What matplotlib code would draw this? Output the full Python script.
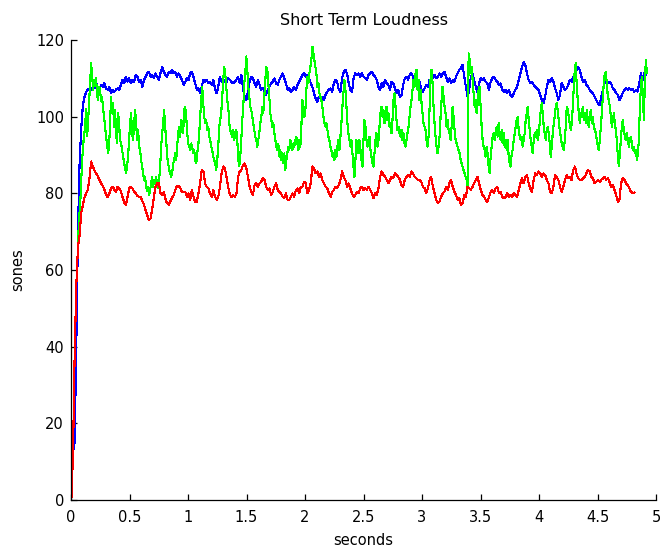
import numpy as np
import matplotlib
matplotlib.use("Agg")
import matplotlib.pyplot as plt

# ---------------- data ----------------
title = "Short Term Loudness"
xlabel = "seconds"
ylabel = "sones"
xticks = [0, 0.5, 1, 1.5, 2, 2.5, 3, 3.5, 4, 4.5, 5]
xticklabels = ["0", "0.5", "1", "1.5", "2", "2.5", "3", "3.5", "4", "4.5", "5"]
yticks = [0, 20, 40, 60, 80, 100, 120]

# sampling of the three loudness traces (seconds)
red_t0, red_dt = 0.003, 0.01411
blue_t0, blue_dt = 0.017, 0.01411
green_t0, green_dt = 0.060, 0.00856

red = [
    0, 12, 38, 56, 66, 69, 75, 77, 79, 80,
    81, 84, 88.3, 87, 86, 85.2, 84.5, 83.5, 82.6, 82,
    81, 79.6, 79, 80, 81.3, 81.7, 81, 80.4, 81.7, 81.3,
    80.5, 79, 77.6, 77, 79, 81.3, 81.7, 81.3, 80.5, 80,
    79.3, 79.1, 79.1, 78, 77, 75.6, 74.3, 73, 73.5, 76,
    79, 81.7, 82.6, 82.6, 80, 79.5, 80.4, 78.5, 77.4, 77,
    78, 78.8, 79.5, 80.9, 82, 82, 81.3, 80.4, 80.4,
    80.4, 79.1, 80.0, 78.3, 80.9, 79.1, 77.8, 77.8, 80.0, 82.6,
    86.1, 85.7, 82.6, 81.7, 81.3, 80.0, 79.1, 80.9, 79.1, 78.3,
    79.1, 81.7, 85.2, 87.0, 86.5, 84.3, 81.7, 79.6, 79.1, 79.6,
    79.1, 80.0, 84.3, 85.7, 86.1, 87.4, 87.8, 86.5, 84.3, 81.7,
    80.4, 79.6, 82.2, 82.6, 81.7, 82.6, 83.0, 83.9, 83.5, 81.7,
    80.9, 81.3, 79.6, 80.4, 81.7, 82.6, 80.9, 80.4, 80.0, 79.1,
    78.7, 80.0, 78.3, 78.3, 79.1, 80.0, 79.1, 80.9, 81.3, 80.0,
    81.7,
    81.7, 83.0, 82.6, 80.0, 80.9, 82.6, 87.0, 86.5, 85.2, 85.7,
    84.3, 85.2, 83.5, 82.6, 81.7, 81.3, 80.0, 79.1, 80.4, 80.9,
    81.7, 81.3, 82.2, 83.5, 85.7, 84.3, 83.5, 81.7, 82.6, 81.3,
    80.0, 79.1, 79.6, 80.4, 80.0, 81.3, 81.7, 80.9, 81.3, 80.9,
    81.7, 80.9, 80.0, 78.7, 80.0, 79.6, 81.3, 84.3, 85.7, 84.8,
    84.3, 83.5, 82.6, 83.5, 84.3, 83.9, 85.2, 84.8, 84.3, 83.5,
    82.2, 81.7, 83.5, 84.3, 84.8, 84.3, 85.7, 85.2, 84.3, 83.9,
    83.5,
    83.5, 83.0, 81.7, 81.3, 80.0, 81.3, 83.5, 84.3, 81.7, 80.0,
    78.3, 77.4, 77.8, 79.1, 80.0, 80.4, 81.7, 80.9, 82.6, 83.5,
    81.7, 80.4, 79.6, 78.3, 78.7, 77.0, 77.4, 79.6, 79.1, 81.7,
    81.3, 80.9, 81.7, 82.6, 83.5, 84.3, 82.6, 80.9, 79.6, 79.1,
    78.3, 77.8, 79.1, 80.4, 80.9, 80.0, 81.3, 81.7, 80.0, 80.4,
    79.1, 78.7, 79.1, 80.0, 79.1, 79.6, 79.1, 80.0, 79.6, 79.1,
    80.9, 82.6, 83.9, 82.6, 84.3, 84.8, 82.6, 81.3, 80.4, 83.5,
    85.2,
    84.8, 85.7, 85.2, 84.3, 85.2, 84.8, 83.5, 82.6, 80.4, 80.0,
    81.7, 84.8, 84.3, 83.5, 81.7, 80.4, 81.7, 83.5, 84.8, 83.9,
    84.3, 83.5, 86.1, 87.0, 85.2, 83.9, 83.5, 83.5, 83.9, 84.3,
    85.2, 86.1, 85.7, 84.3, 83.9, 82.6, 83.0, 83.5, 83.0, 83.5,
    83.9, 84.3, 83.5, 83.9, 83.0, 81.7, 82.2, 80.9, 79.6, 77.8,
    78.3, 82.6, 83.9, 83.5, 82.6, 82.2, 81.3, 80.4, 80.0, 80.2,
]

blue = [
    12.5, 15, 40, 70, 88, 97, 103, 105.2, 106.5, 107,
    107.4, 107, 107.8, 107.4, 108.7, 107.8, 107, 108.3, 107.8, 108.7,
    107.4, 107, 107.8, 106.1, 107, 106.5, 107, 107.4, 107, 108.3,
    109.6, 108.7, 110.4, 109.1, 110, 108.7, 109.6, 109.1, 110.9, 110.4,
    109.1, 109.6, 107.8, 109.6, 110.4, 111.3, 111.7, 110.4, 110.9, 110,
    111.3, 110.4, 109.6, 111.3, 113, 111.7, 110.9, 110.4, 111.7, 111.3,
    112.2, 111.3, 111.7, 110.4, 111.3, 110.4, 109.6, 108.3,
    109.1, 110.0, 109.6, 111.3, 111.7, 110.4, 108.7, 107.0, 107.4, 106.1,
    107.8, 109.6, 109.1, 109.6, 108.7, 109.1, 108.3, 109.6, 107.4, 106.1,
    107.8, 110.4, 109.1, 108.7, 109.6, 109.1, 110.0, 109.6, 109.1, 108.7,
    109.1, 109.6, 110.4, 108.7, 110.9, 107.4, 105.2, 104.3, 106.5, 109.1,
    110.4, 110.0, 108.7, 107.8, 109.6, 108.3, 107.0, 107.4, 106.5, 105.7,
    107.0, 107.8, 108.7, 109.1, 110.0, 108.7, 108.3, 109.6, 110.4, 111.3,
    110.0, 108.7, 107.0, 107.4, 106.5, 107.0, 107.8, 107.0, 108.3, 109.1,
    110.0,
    110.9, 111.3, 110.4, 110.9, 110.0, 108.7, 107.8, 106.1, 104.8, 103.9,
    105.2, 104.8, 105.2, 104.3, 105.7, 106.5, 107.0, 107.4, 106.5, 108.7,
    109.6, 109.1, 107.0, 106.5, 110.0, 111.7, 112.2, 111.3, 108.7, 107.0,
    106.5, 110.0, 111.3, 110.9, 111.3, 110.4, 111.3, 110.4, 110.0, 109.6,
    110.9, 111.3, 111.7, 110.9, 110.4, 109.6, 107.8, 107.0, 108.7, 107.8,
    109.6, 108.7, 108.3, 107.0, 109.1, 108.7, 107.4, 106.1, 107.0, 105.2,
    105.7, 108.3, 110.0, 110.4, 109.6, 110.9, 111.3, 110.4, 109.1, 108.7,
    107.8,
    109.1, 107.0, 106.5, 107.4, 108.3, 107.8, 109.6, 108.7, 110.4, 110.9,
    110.0, 110.4, 111.3, 110.4, 111.3, 111.7, 110.4, 109.1, 110.0, 108.7,
    109.6, 109.1, 110.4, 111.3, 112.2, 112.6, 113.5, 110.4, 107.8, 105.2,
    107.0, 110.4, 111.3, 109.6, 107.8, 106.5, 108.7, 110.0, 109.6, 110.0,
    109.1, 108.7, 107.0, 109.1, 110.0, 110.4, 109.6, 109.1, 108.3, 108.7,
    107.0, 106.5, 107.0, 106.1, 107.0, 105.7, 105.2, 106.1, 107.0, 107.8,
    109.6, 111.3, 113.0, 114.3, 113.5, 111.3, 109.6, 108.7, 109.1, 108.3,
    107.8,
    107.4, 107.0, 105.7, 104.3, 103.5, 105.2, 107.8, 109.6, 109.1, 110.0,
    109.1, 107.4, 106.1, 104.3, 105.7, 108.7, 107.8, 107.0, 107.4, 108.3,
    109.6, 109.1, 110.4, 110.9, 112.2, 113.0, 112.2, 110.4, 109.1, 109.6,
    108.3, 107.8, 107.0, 106.5, 106.1, 105.2, 104.3, 103.5, 103.0, 105.2,
    107.0, 108.7, 109.1, 108.7, 109.1, 108.7, 107.4, 107.0, 106.1, 105.7,
    104.3, 105.2, 106.1, 107.0, 107.4, 107.0, 107.4, 107.0, 107.2, 106.5,
    107.0, 106.5, 108.7, 111.3, 109.6, 111.3, 110.9,
]

green = [
    66, 74, 76, 82, 88, 92.2, 95, 97, 102, 95,
    98, 104, 108, 113.9, 111.3, 107, 109.6, 108, 110, 106,
    104.3, 107.8, 107, 104, 105.2, 102, 100, 97.4, 94.8, 93,
    90.4, 92.2, 98.3, 105.2, 100.9, 103.5, 97.4, 101.7, 95.7, 93,
    100.9, 98.3, 93.9, 93, 91.3, 89.6, 88, 86.5, 85.2, 87,
    89.6, 93.9, 98.3, 100.9, 95.7, 93.9, 98.3, 101.7, 98.3, 93.9,
    96.5, 92.2, 91.3, 88.7, 87, 85.2, 83.5, 84.3, 81.7, 80.5,
    81.7, 79.6, 80.9, 82.6, 84.3, 81.7, 83.5, 82.6, 84.3, 81.7,
    81.3, 83.5, 87, 92.2, 95.7, 98.3, 101.7, 97.4, 93.9, 89.6,
    87.8, 86.1, 85.2, 84.3, 85.2, 87.8, 88.7, 90.4, 88.7, 92.2,
    95.7, 97.4, 94.8, 99.1, 98.3, 95.7, 101.7,
    102.6, 100.0, 95.7, 93.0, 92.2, 91.3, 93.0, 92.2, 90.4, 91.3,
    88.7, 87.8, 90.4, 92.2, 95.7, 100.0, 104.3, 107.8, 103.5, 100.0,
    98.3, 99.1, 96.5, 97.4, 94.8, 93.9, 92.2, 91.3, 89.6, 88.7,
    87.8, 86.1, 88.7, 92.2, 97.4, 99.1, 100.9, 105.2, 109.6, 113.0,
    111.3, 107.8, 104.3, 102.6, 98.3, 96.5, 95.7, 94.8, 96.5, 93.9,
    95.7, 96.5, 93.9, 88.7, 87.0, 89.6, 93.9, 99.1, 102.6, 108.7,
    111.3, 115.7, 112.2, 107.8, 105.2, 102.6, 101.7, 100.0, 98.3, 96.5,
    94.8, 93.9, 92.2, 93.9, 95.7, 98.3, 100.0, 102.6, 100.9, 105.2,
    109.6, 113.0, 112.2, 108.7, 105.2, 100.9, 99.1, 97.4, 98.3, 95.7,
    93.9, 92.2, 91.3, 93.0, 89.6, 91.3, 88.7, 90.4, 87.8, 90.4,
    86.1, 88.7, 90.4, 92.2, 91.3, 93.9, 92.2, 91.3, 93.0, 92.2,
    93.9, 94.8, 93.0, 91.3, 93.9, 92.2, 97.4,
    104.3, 102.6, 100.0, 101.7, 107.0, 110.4, 108.7, 111.3, 113.0, 114.8,
    118.3, 116.5, 114.8, 113.0, 111.3, 107.8, 108.7, 106.1, 105.2, 104.3,
    102.6, 100.0, 98.3, 97.4, 98.3, 96.5, 94.8, 93.9, 92.2, 91.3,
    89.6, 90.4, 88.7, 91.3, 89.6, 92.2, 93.9, 91.3, 94.8, 98.3,
    102.6, 106.1, 109.6, 107.0, 102.6, 98.3, 95.7, 93.9, 92.2, 93.9,
    90.4, 87.0, 84.3, 88.7, 93.9, 92.2, 90.4, 93.9, 91.3, 88.7,
    87.0, 93.9, 99.1, 97.4, 93.9, 92.2, 93.9, 94.8, 91.3, 89.6,
    87.8, 87.0, 90.4, 93.9, 95.7, 92.2, 93.9, 97.4, 100.9, 102.6,
    100.0, 101.7, 98.3, 100.9, 102.6, 99.1, 100.9, 97.4, 98.3, 95.7,
    99.1, 104.3, 106.1, 102.6, 99.1, 96.5, 97.4, 95.7, 94.8, 96.5,
    93.9, 95.7, 93.0, 92.2, 93.9, 95.7, 97.4, 100.0, 102.6, 104.3,
    107.0, 109.6, 107.8, 111.3, 112.2, 107.0, 109.6,
    104.3, 107.0, 103.5, 100.9, 98.3, 97.4, 96.5, 93.9, 92.2, 94.8,
    102.6, 109.6, 112.2, 108.7, 102.6, 98.3, 94.8, 92.2, 90.4, 92.2,
    94.8, 100.0, 104.3, 107.8, 105.2, 102.6, 100.9, 97.4, 99.1, 96.5,
    95.7, 93.9, 97.4, 102.6, 100.0, 96.5, 93.9, 93.0, 92.2, 91.3,
    90.4, 88.7, 87.8, 87.0, 86.1, 85.2, 84.3, 83.5, 81.7, 116.5,
    114.8, 111.3, 113.0, 109.6, 106.1, 102.6, 104.3, 100.9, 103.5, 107.0,
    107.8, 102.6, 97.4, 93.9, 92.2, 91.3, 89.6, 92.2, 90.4, 87.0,
    85.2, 89.6, 92.2, 94.8, 95.7, 93.9, 95.7, 97.4, 94.8, 98.3,
    95.7, 93.9, 96.5, 93.0, 95.7, 92.2, 93.9, 91.3, 93.9, 89.6,
    87.8, 87.0, 90.4, 91.3, 93.9, 95.7, 97.4, 99.1, 100.0, 96.5,
    94.8, 93.9, 94.8, 92.2, 93.9, 95.7, 99.1, 100.9, 102.6, 99.1,
    96.5, 93.9, 92.2, 90.4, 93.9, 95.7, 94.8,
    96.5, 93.9, 95.7, 98.3, 101.7, 103.5, 100.9, 97.4, 95.7, 93.9,
    96.5, 97.4, 95.7, 93.0, 89.6, 92.2, 95.7, 98.3, 100.0, 102.6,
    103.5, 101.7, 99.1, 96.5, 94.8, 93.0, 92.2, 91.3, 93.9, 97.4,
    102.6, 101.7, 100.0, 98.3, 96.5, 98.3, 102.6, 107.8, 112.2, 113.9,
    107.8, 104.3, 100.9, 98.3, 100.9, 100.0, 102.6, 99.1, 100.9, 98.3,
    101.7, 99.1, 97.4, 100.0, 101.7, 98.3, 100.0, 97.4, 96.5, 95.7,
    93.9, 92.2, 91.3, 93.9, 97.4, 100.9, 105.2, 108.7, 111.3, 111.7,
    108.7, 105.2, 104.3, 102.6, 100.0, 97.4, 99.1, 100.9, 98.3, 96.5,
    93.9, 89.6, 87.0, 90.4, 93.9, 97.4, 99.1, 96.5, 94.8, 93.9,
    95.7, 93.9, 92.2, 93.9, 94.8, 93.0, 91.3, 92.2, 90.4, 91.3,
    88.7, 90.4, 93.9, 102.6, 107.8, 110.4, 105.2, 99.1, 109.6, 114.8,
    111.3,
]

# ---------------- figure ----------------
plt.rcParams['font.family'] = ['DejaVu Sans']
fig = plt.figure(figsize=(6.63, 5.5), dpi=100)
W, H = 663, 550
ax = fig.add_axes([71 / W, 50 / H, 585 / W, 460 / H])

t_red = red_t0 + np.arange(len(red)) * red_dt
t_blue = blue_t0 + np.arange(len(blue)) * blue_dt
t_green = green_t0 + np.arange(len(green)) * green_dt

lw = 0.8
ax.plot(t_blue, blue, color=(0, 0, 1), lw=lw, antialiased=False)
ax.plot(t_green, green, color=(0, 1, 0), lw=lw, antialiased=False)
ax.plot(t_red, red, color=(1, 0, 0), lw=lw, antialiased=False)

ax.set_xlim(0, 5)
ax.set_ylim(0, 120)
ax.set_xticks(xticks)
ax.set_xticklabels(xticklabels)
ax.set_yticks(yticks)

for s in ['top', 'right']:
    ax.spines[s].set_visible(False)
for s in ['left', 'bottom']:
    ax.spines[s].set_linewidth(0.9)
    ax.spines[s].set_color('black')

ax.tick_params(direction='in', length=4.5, width=0.9, labelsize=10.5,
               colors='black')
ax.tick_params(axis='x', pad=7)
ax.tick_params(axis='y', pad=5)
ax.set_title(title, fontsize=11.5, pad=11)
ax.set_xlabel(xlabel, fontsize=10.5, labelpad=6)
ax.set_ylabel(ylabel, fontsize=10.5, labelpad=8)

fig.savefig("out.png", dpi=100)
